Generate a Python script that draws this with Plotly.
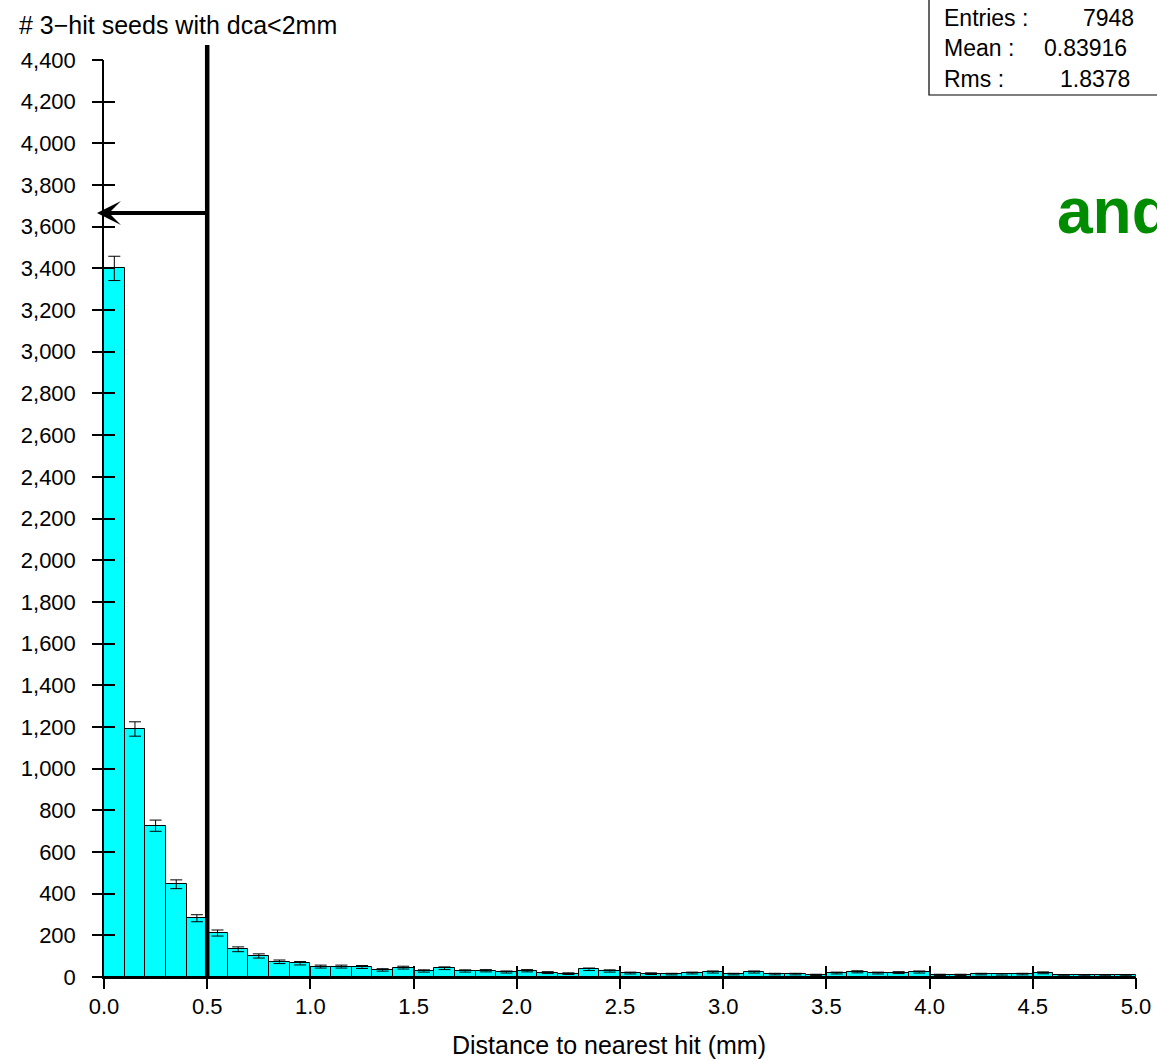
import numpy as np
import plotly.graph_objects as go

# Histogram: distance from 3-hit seed to nearest hit, 0.1 mm bins over 0-5 mm
bin_width = 0.1
bin_edges_low = [round(i * bin_width, 1) for i in range(50)]
counts = [3400, 1190, 726, 445, 282, 211, 133, 101, 73, 66,
          50, 50, 48, 34, 45, 29, 42, 29, 30, 24,
          30, 21, 16, 37, 29, 19, 16, 14, 19, 24,
          14, 24, 14, 14, 10, 19, 25, 19, 21, 24,
          10, 10, 14, 13, 14, 20, 9, 9, 9, 9]

x_ticks = [0.0, 0.5, 1.0, 1.5, 2.0, 2.5, 3.0, 3.5, 4.0, 4.5, 5.0]
y_ticks = list(range(0, 4401, 200))

stats_labels = ["Entries :", "Mean :", "Rms :"]
stats_values = ["7948", "0.83916", "1.8378"]

cut_value = 0.5          # vertical cut line
cut_level = 3666         # arrow height

FONT = "Liberation Sans, Arial, Helvetica, sans-serif"
W, H = 1157, 1060
L, R, T, B = 104, 1136, 60, 977


def px_x(p):
    return (p - L) / (R - L)


def px_y(p):
    return (B - p) / (B - T)


centers = [e + bin_width / 2 for e in bin_edges_low]
errors = [float(np.sqrt(c)) for c in counts]

fig = go.Figure()
fig.add_trace(go.Bar(
    x=centers, y=counts, width=bin_width,
    marker=dict(color="#00FFFF", line=dict(color="black", width=1)),
    error_y=dict(type="data", array=errors, color="black", thickness=1, width=6),
    showlegend=False, hoverinfo="skip",
))
# empty trace carrying the overlay axes that draw the outer half of the ticks
fig.add_trace(go.Scatter(x=[None], y=[None], xaxis="x2", yaxis="y2",
                         showlegend=False, hoverinfo="skip"))

axis_common = dict(showgrid=False, zeroline=False, showline=True,
                   automargin=False,
                   linecolor="black", linewidth=1.5, tickcolor="black",
                   tickwidth=1.5, ticklen=11,
                   tickfont=dict(family=FONT, size=22, color="black"))
overlay_common = dict(showticklabels=False, showline=False, showgrid=False,
                      zeroline=False, automargin=False, tickcolor="black",
                      tickwidth=1.5, ticklen=11, ticks="outside")

fig.update_layout(
    width=W, height=H,
    margin=dict(l=L, r=W - R, t=T, b=H - B, pad=0),
    paper_bgcolor="white", plot_bgcolor="white",
    bargap=0,
    xaxis=dict(range=[0, 5], tickvals=x_ticks,
               ticktext=[f"{v:.1f}" for v in x_ticks],
               ticks="inside", ticklabelstandoff=9,
               **axis_common),
    yaxis=dict(range=[0, 4400], tickvals=y_ticks,
               ticktext=[f"{v:,}" for v in y_ticks],
               ticks="inside", ticklabelstandoff=22,
               **axis_common),
    xaxis2=dict(overlaying="x", anchor="y", range=[0, 5], tickvals=x_ticks,
                side="bottom", **overlay_common),
    yaxis2=dict(overlaying="y", anchor="x", range=[0, 4400], tickvals=y_ticks,
                side="left", **overlay_common),
)

# vertical cut line
fig.add_shape(type="line", xref="x", yref="paper",
              x0=cut_value, x1=cut_value, y0=0, y1=px_y(45),
              line=dict(color="black", width=4.5))

# arrow pointing to the y axis
fig.add_annotation(x=-0.034, y=cut_level, xref="x", yref="y",
                   ax=cut_value, ay=cut_level, axref="x", ayref="y",
                   text="", showarrow=True, arrowhead=3, arrowsize=1,
                   arrowwidth=4, arrowcolor="black", standoff=0)

# axis titles
fig.add_annotation(x=px_x(17), y=px_y(25), xref="paper", yref="paper",
                   xanchor="left", yanchor="middle", showarrow=False,
                   text="# 3\u2212hit seeds with dca<2mm",
                   font=dict(family=FONT, size=25, color="black"))
fig.add_annotation(x=px_x(609), y=px_y(1045), xref="paper", yref="paper",
                   xanchor="center", yanchor="middle", showarrow=False,
                   text="Distance to nearest hit (mm)",
                   font=dict(family=FONT, size=25, color="black"))

# statistics box
fig.add_shape(type="rect", xref="paper", yref="paper",
              x0=px_x(929), x1=px_x(1170), y0=px_y(95), y1=px_y(-5),
              line=dict(color="black", width=1.2), fillcolor="white")
rows_y = [18, 48, 79]
value_right = [1136, 1129, 1132]
for lab, val, yy, xr in zip(stats_labels, stats_values, rows_y, value_right):
    fig.add_annotation(x=px_x(942), y=px_y(yy), xref="paper", yref="paper",
                       xanchor="left", yanchor="middle", showarrow=False,
                       text=lab, font=dict(family=FONT, size=23, color="black"))
    fig.add_annotation(x=px_x(xr), y=px_y(yy), xref="paper", yref="paper",
                       xanchor="right", yanchor="middle", showarrow=False,
                       text=val, font=dict(family=FONT, size=23, color="black"))

# green overlay text running off the right edge
fig.add_annotation(x=px_x(1055), y=px_y(211), xref="paper", yref="paper",
                   xanchor="left", yanchor="middle", showarrow=False,
                   text="<b>and</b>",
                   font=dict(family=FONT, size=64, color="#008C00"))

# keep the page exactly the size of the figure
page_fix = (
    "document.documentElement.style.overflow='hidden';"
    "document.body.style.margin='0';"
    "document.body.style.overflow='hidden';"
    "var g=document.getElementById('{plot_id}');"
    "g.parentElement.style.height='1060px';"
    "g.parentElement.style.overflow='hidden';"
)

fig.write_html("out.html", post_script=page_fix)
